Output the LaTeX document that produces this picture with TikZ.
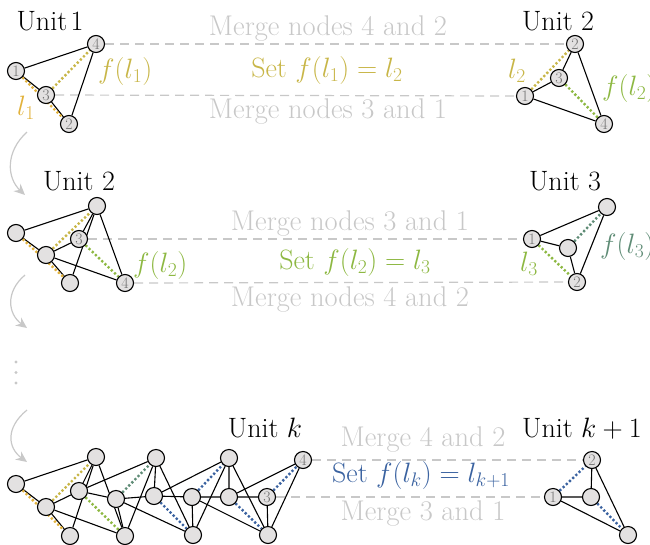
\RequirePackage{fix-cm}
\documentclass[tikz,border=0pt]{standalone}
\usepackage{fontspec}
\usetikzlibrary{arrows.meta}
\pgfdeclarelayer{bg}
\pgfsetlayers{bg,main}
\definecolor{cOr}{RGB}{226,178,60}
\definecolor{cOl}{RGB}{200,182,72}
\definecolor{cGr}{RGB}{141,184,66}
\definecolor{cTe}{RGB}{95,140,118}
\definecolor{cBl}{RGB}{58,98,160}
\definecolor{cGy}{RGB}{200,200,200}
\definecolor{cNd}{RGB}{227,225,225}
\begin{document}
\begin{tikzpicture}[x=1pt,y=-1pt,
 vtx/.style={circle,draw=black,fill=cNd,line width=1.1pt,minimum size=17pt,inner sep=0pt,font=\fontsize{16}{16}\selectfont,text=black!55},
 edge/.style={line width=1.1pt,black},
 dotl/.style={line width=2.4pt,dash pattern=on 2.2pt off 2.2pt},
 mrg/.style={cGy,line width=1.2pt,dash pattern=on 9pt off 6pt},
 gtext/.style={text=cGy,font=\fontsize{28.5}{32}\selectfont,anchor=base,inner sep=0pt},
 stext/.style={font=\fontsize{28}{32}\selectfont,anchor=base,inner sep=0pt},
 utext/.style={font=\fontsize{28}{32}\selectfont,anchor=base,inner sep=0pt},
 lab/.style={font=\fontsize{28}{32}\selectfont,anchor=base west,inner sep=0pt},
 flow/.style={cGy,line width=1.2pt,-{Stealth[length=11pt,width=10pt]}}
]
\useasboundingbox (0,0) rectangle (650,544);

% ---------- top row ----------
\node[vtx] (a1) at (16,71) {1};
\node[vtx] (a3) at (46,95) {3};
\node[vtx] (a4) at (96,44) {4};
\node[vtx] (a2) at (69,124) {2};
\node[vtx] (b2) at (575,44) {2};
\node[vtx] (b3) at (559,78) {3};
\node[vtx] (b1) at (525,96) {1};
\node[vtx] (b4) at (604,124) {4};

% ---------- middle row ----------
\node[vtx] (cA) at (16,233) {};
\node[vtx] (cB) at (46,255) {};
\node[vtx] (cC) at (97,206) {};
\node[vtx] (c3) at (79,239) {3};
\node[vtx] (cD) at (70,283) {};
\node[vtx] (c4) at (125,283) {4};
\node[vtx] (d1) at (532,239) {1};
\node[vtx] (dm) at (568,248) {};
\node[vtx] (dt) at (607,207) {};
\node[vtx] (d2) at (577,282) {2};

% ---------- bottom row ----------
\node[vtx] (n1) at (16,484) {};
\node[vtx] (n2) at (46,507) {};
\node[vtx] (n3) at (96,457) {};
\node[vtx] (n4) at (79,491) {};
\node[vtx] (n5) at (70,536) {};
\node[vtx] (n6) at (116,499) {};
\node[vtx] (n7) at (125,536) {};
\node[vtx] (n8) at (156,458) {};
\node[vtx] (n9) at (154,496) {};
\node[vtx] (n10) at (192,497) {};
\node[vtx] (n11) at (193,535) {};
\node[vtx] (n12) at (229,458) {};
\node[vtx] (n13) at (229,497) {};
\node[vtx] (n14) at (267,497) {3};
\node[vtx] (n15) at (268,535) {};
\node[vtx] (n16) at (303,460) {4};
\node[vtx] (e2) at (592,460) {2};
\node[vtx] (e1) at (553,497) {1};
\node[vtx] (em) at (591,497) {};
\node[vtx] (eb) at (628,535) {};

\begin{pgfonlayer}{bg}
% merges
\draw[mrg] (a4) -- (b2);
\draw[mrg] (a3) -- (b1);
\draw[mrg] (c3) -- (d1);
\draw[mrg] (c4) -- (d2);
\draw[mrg] (n16) -- (e2);
\draw[mrg] (n14) -- (e1);
% unit 1
\draw[edge] (a1) -- (a4) (a1) -- (a3) (a3) -- (a2) (a4) -- (a2);
\draw[dotl,cOr] (a1) -- (a2);
\draw[dotl,cOl] (a3) -- (a4);
% unit 2
\draw[edge] (b1) -- (b3) (b3) -- (b2) (b2) -- (b4) (b1) -- (b4);
\draw[dotl,cOl] (b1) -- (b2);
\draw[dotl,cGr] (b3) -- (b4);
% middle merged
\draw[edge] (cA) -- (cC) (cA) -- (cB) (cB) -- (cD) (cC) -- (cD);
\draw[dotl,cOr] (cA) -- (cD);
\draw[dotl,cOl] (cB) -- (cC);
\draw[edge] (cB) -- (c3) (c3) -- (cC) (cC) -- (c4) (cB) -- (c4);
\draw[dotl,cGr] (c3) -- (c4);
% unit 3
\draw[edge] (d1) -- (dt) (d1) -- (dm) (dm) -- (d2) (dt) -- (d2);
\draw[dotl,cGr] (d1) -- (d2);
\draw[dotl,cTe] (dm) -- (dt);
% bottom chain
\draw[edge] (n1) -- (n3) (n1) -- (n2) (n2) -- (n5) (n3) -- (n5);
\draw[dotl,cOr] (n1) -- (n5);
\draw[dotl,cOl] (n2) -- (n3);
\draw[edge] (n2) -- (n4) (n4) -- (n3) (n3) -- (n7) (n2) -- (n7);
\draw[dotl,cGr] (n4) -- (n7);
\draw[edge] (n4) -- (n8) (n4) -- (n6) (n6) -- (n7) (n8) -- (n7);
\draw[dotl,cTe] (n6) -- (n8);
\draw[edge] (n6) -- (n9) (n9) -- (n8) (n8) -- (n11) (n6) -- (n11);
\draw[dotl,cBl] (n9) -- (n11);
\draw[edge] (n9) -- (n12) (n9) -- (n10) (n10) -- (n11) (n12) -- (n11);
\draw[dotl,cBl] (n10) -- (n12);
\draw[edge] (n10) -- (n13) (n13) -- (n12) (n12) -- (n15) (n10) -- (n15);
\draw[dotl,cBl] (n13) -- (n15);
\draw[edge] (n13) -- (n16) (n13) -- (n14) (n14) -- (n15) (n16) -- (n15);
\draw[dotl,cBl] (n14) -- (n16);
% unit k+1
\draw[edge] (e1) -- (em) (em) -- (e2) (e2) -- (eb) (e1) -- (eb);
\draw[dotl,cBl] (e1) -- (e2);
\draw[dotl,cBl] (em) -- (eb);
\end{pgfonlayer}

% ---------- texts ----------
\node[utext] (t1) at (50,30) {Unit\hspace{0.12em}1};
\node[utext] (t2) at (558,30) {Unit 2};
\node[gtext] (m1) at (328,35) {Merge nodes 4 and 2};
\node[stext,text=cOl] (s1) at (327,77) {Set $f(l_1)=l_2$};
\node[gtext] (m2) at (328,118) {Merge nodes 3 and 1};
\node[lab,text=cOl] (f1) at (98,78) {$f(l_1)$};
\node[lab,text=cOr] (l1) at (17,115) {$l_1$};
\node[lab,text=cOl] (l2) at (508,78) {$l_2$};
\node[lab,text=cGr] (f2) at (602,95) {$f(l_2)$};

\node[utext] (t3) at (79,190) {Unit 2};
\node[utext] (t4) at (565,190) {Unit 3};
\node[gtext] (m3) at (350,230) {Merge nodes 3 and 1};
\node[stext,text=cGr] (s2) at (355,269) {Set $f(l_2)=l_3$};
\node[gtext] (m4) at (350,306) {Merge nodes 4 and 2};
\node[lab,text=cGr] (f3) at (133,272) {$f(l_2)$};
\node[lab,text=cGr] (l3) at (520,271) {$l_3$};
\node[lab,text=cTe] (f4) at (600,253) {$f(l_3)$};

\node[utext] (t5) at (265,437) {Unit $k$};
\node[utext] (t6) at (582,437) {Unit $k+1$};
\node[gtext] (m5) at (423,446) {Merge 4 and 2};
\node[stext,text=cBl] (s3) at (421,482) {Set $f(l_k)=l_{k+1}$};
\node[gtext] (m6) at (423,520) {Merge 3 and 1};

% ---------- flow arrows ----------
\coordinate (p1) at (27,132); \coordinate (q1) at (25,195);
\coordinate (p2) at (25,275); \coordinate (q2) at (27,328);
\coordinate (p3) at (27,410); \coordinate (q3) at (27,462);
\draw[flow] (p1) .. controls (5,152) and (7,178) .. (q1);
\draw[flow] (p2) .. controls (5,292) and (8,314) .. (q2);
\draw[flow] (p3) .. controls (5,428) and (8,448) .. (q3);
\fill[cGy] (16,362) circle (1.6pt) (16,372.5) circle (1.6pt) (16,383) circle (1.6pt);
\end{tikzpicture}
\end{document}
